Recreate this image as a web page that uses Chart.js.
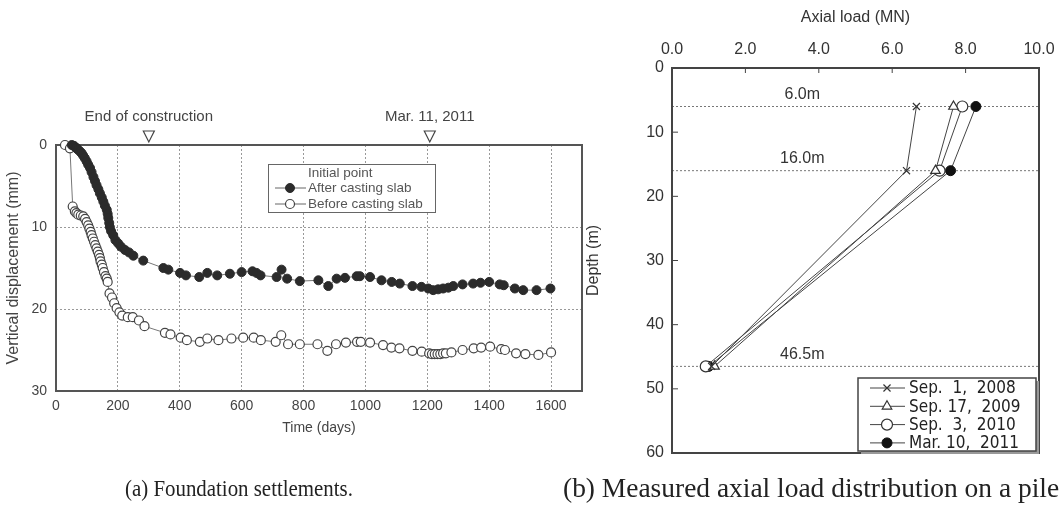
<!DOCTYPE html>
<html>
<head>
<meta charset="utf-8">
<script src="https://cdn.jsdelivr.net/npm/chart.js@4.4.1/dist/chart.umd.min.js"></script>
<style>
html, body { margin:0; padding:0; background:#fff; overflow:hidden; width:1059px; height:515px; position:relative; }
#settle { position:absolute; left:0; top:0; }
#axial { position:absolute; left:580px; top:0; }
.cap { position:absolute; font-family:"Liberation Serif", "DejaVu Serif", serif; color:#222;
       white-space:nowrap; transform-origin:left top; }
#capA { left:125px; top:475px; font-size:24px; line-height:26px; transform:scaleX(0.87); }
#capB { left:563px; top:473px; font-size:28px; line-height:30px; transform:scaleX(0.98); }
</style>
</head>
<body>
<canvas id="settle" width="600" height="515"></canvas>
<canvas id="axial" width="500" height="515"></canvas>
<div class="cap" id="capA">(a) Foundation settlements.</div>
<div class="cap" id="capB">(b) Measured axial load distribution on a pile.</div>
<script>
// ---- settlement records (days, mm) ----
var afterDays = [51,58,63,67,72,78,83,88,93,99,104,110,115,121,126,131,137,142,148,153,158,164,167,169,172,174,178,185,192,201,210,223,236,250,282,
    347,363,401,420,463,489,521,562,600,635,648,661,713,729,747,788,848,880,907,934,972,982,1015,
    1052,1085,1111,1152,1181,1203,1219,1235,1251,1268,1284,1314,1348,1372,1400,1434,1447,1483,1510,1553,1598];
var afterDisp = [0,0.1,0.3,0.4,0.6,0.8,1.0,1.3,1.6,2.0,2.4,2.8,3.3,3.9,4.4,4.9,5.4,5.9,6.4,6.9,7.4,7.9,8.4,8.9,9.5,10.0,10.5,11.0,11.6,12.0,12.4,12.8,13.1,13.5,14.1,
    15.0,15.2,15.6,15.9,16.1,15.6,15.9,15.7,15.5,15.4,15.6,15.9,16.1,15.2,16.3,16.6,16.5,17.2,16.3,16.2,16.0,16.0,16.1,
    16.5,16.7,16.9,17.2,17.3,17.5,17.7,17.6,17.5,17.4,17.2,17.0,16.9,16.8,16.7,17.0,17.1,17.5,17.7,17.7,17.5];

var beforeDays = [29,45,54,61,66,72,80,88,94,99,104,108,112,115,119,123,127,131,135,139,142,144,148,151,155,160,164,167,173,181,
    188,196,205,214,232,248,268,286,352,370,403,423,465,489,525,567,605,639,662,710,728,750,788,845,877,905,937,973,985,1015,
    1057,1084,1110,1152,1182,1206,1215,1224,1233,1242,1251,1260,1278,1314,1350,1374,1403,1439,1451,1487,1517,1559,1600];
var beforeDisp = [0,0.4,7.5,8.1,8.3,8.5,8.6,8.7,9.0,9.4,9.8,10.2,10.6,11.0,11.4,11.8,12.2,12.6,13.0,13.4,13.8,14.2,14.6,15.0,15.5,16.0,16.3,16.7,18.1,18.6,
    19.3,19.9,20.4,20.8,21.0,21.0,21.4,22.1,22.9,23.1,23.5,23.8,24.0,23.6,23.8,23.6,23.5,23.5,23.8,24.0,23.2,24.3,24.3,24.3,25.1,24.3,24.1,24.0,24.0,24.1,
    24.4,24.7,24.8,25.1,25.2,25.4,25.5,25.5,25.5,25.5,25.4,25.4,25.3,25.0,24.8,24.7,24.6,24.9,25.0,25.4,25.5,25.6,25.3];

var dayTicks = [0, 200, 400, 600, 800, 1000, 1200, 1400, 1600];
var dispTicks = [0, 10, 20, 30];

var eventLabels = ['End of construction', 'Mar. 11, 2011'];
var eventDays = [300, 1208];

// ---- pile axial load (MN) at gauge depths (m) ----
var gaugeDepths = [6.0, 16.0, 46.5];
var surveyLabels = ['Sep.  1,  2008', 'Sep. 17,  2009', 'Sep.  3,  2010', 'Mar. 10,  2011'];
var load2008 = [6.66, 6.39, 1.08];
var load2009 = [7.67, 7.18, 1.16];
var load2010 = [7.91, 7.29, 0.92];
var load2011 = [8.28, 7.59, 1.00];

var leftFont = '"Liberation Sans", Arial, sans-serif';
var narrowFont = '"Liberation Sans Narrow", "DejaVu Sans Condensed", "Liberation Sans", sans-serif';

function pts(xs, ys) {
    var out = [];
    for (var i = 0; i < xs.length; i++) out.push({x: xs[i], y: ys[i]});
    return out;
}

function fixedTicks(list) {
    return function (s) { s.ticks = list.map(function (v) { return {value: v}; }); };
}

function marker(ctx, ds, x, y) {
    ctx.save();
    ctx.fillStyle = ds.pointBackgroundColor;
    ctx.strokeStyle = ds.pointBorderColor;
    ctx.lineWidth = ds.pointBorderWidth;
    Chart.helpers.drawPoint(ctx, {pointStyle: ds.pointStyle, radius: ds.pointRadius, rotation: 0, borderWidth: ds.pointBorderWidth}, x, y);
    ctx.restore();
}

// box around the plot, under the markers
var framePlugin = {
    id: 'frame',
    beforeDatasetsDraw: function (chart, args, opts) {
        var a = chart.chartArea, ctx = chart.ctx;
        ctx.save();
        ctx.strokeStyle = opts.color || '#555';
        ctx.lineWidth = opts.width || 2;
        ctx.strokeRect(a.left, a.top, a.right - a.left, a.bottom - a.top);
        ctx.restore();
    }
};

// open triangles + captions over the time axis
var eventPlugin = {
    id: 'events',
    afterDraw: function (chart) {
        var ctx = chart.ctx, xs = chart.scales.x, top = chart.chartArea.top;
        ctx.save();
        ctx.strokeStyle = '#444';
        ctx.lineWidth = 1.2;
        ctx.fillStyle = '#444';
        ctx.font = '15px ' + leftFont;
        ctx.textAlign = 'center';
        ctx.textBaseline = 'middle';
        for (var i = 0; i < eventDays.length; i++) {
            var x = xs.getPixelForValue(eventDays[i]);
            ctx.beginPath();
            ctx.moveTo(x - 5.5, top - 14);
            ctx.lineTo(x + 5.5, top - 14);
            ctx.lineTo(x, top - 3);
            ctx.closePath();
            ctx.stroke();
            ctx.fillText(eventLabels[i], x, top - 28);
        }
        ctx.restore();
    }
};

var settleLegend = {
    id: 'settleLegend',
    afterDraw: function (chart) {
        var ctx = chart.ctx, a = chart.chartArea;
        var bx = a.left + 212, by = a.top + 19, bw = 167, bh = 48;
        ctx.save();
        ctx.fillStyle = '#fff';
        ctx.fillRect(bx, by, bw, bh);
        ctx.strokeStyle = '#666';
        ctx.lineWidth = 1;
        ctx.strokeRect(bx + 0.5, by + 0.5, bw, bh);
        ctx.fillStyle = '#555';
        ctx.font = '13.5px ' + leftFont;
        ctx.textBaseline = 'middle';
        ctx.fillText('Initial point', bx + 40, by + 9);
        var sets = chart.data.datasets;
        for (var i = 0; i < sets.length; i++) {
            var y = by + 24 + i * 16;
            ctx.strokeStyle = '#666';
            ctx.beginPath();
            ctx.moveTo(bx + 7, y);
            ctx.lineTo(bx + 38, y);
            ctx.stroke();
            marker(ctx, sets[i], bx + 22, y);
            ctx.fillStyle = '#555';
            ctx.fillText(sets[i].label, bx + 40, y);
        }
        ctx.restore();
    }
};

new Chart(document.getElementById('settle').getContext('2d'), {
    type: 'scatter',
    data: {
        datasets: [{
            label: 'After casting slab',
            data: pts(afterDays, afterDisp),
            showLine: true, borderColor: '#777', borderWidth: 1,
            pointStyle: 'circle', pointRadius: 4.5, pointBorderWidth: 1,
            pointBackgroundColor: '#2b2b2b', pointBorderColor: '#2b2b2b',
            clip: false
        }, {
            label: 'Before casting slab',
            data: pts(beforeDays, beforeDisp),
            showLine: true, borderColor: '#777', borderWidth: 1,
            pointStyle: 'circle', pointRadius: 4.5, pointBorderWidth: 1.2,
            pointBackgroundColor: '#fff', pointBorderColor: '#444',
            clip: false
        }]
    },
    options: {
        responsive: false,
        animation: false,
        layout: {padding: {left: 0, top: 145, right: 18, bottom: 74}},
        plugins: {legend: {display: false}, tooltip: {enabled: false}, frame: {color: '#555', width: 2}},
        scales: {
            x: {
                type: 'linear', min: 0, max: 1700,
                afterBuildTicks: fixedTicks(dayTicks),
                ticks: {padding: 7, autoSkip: false, maxRotation: 0, color: '#444', font: {family: leftFont, size: 14},
                    callback: function (v) { return String(v); }},
                grid: {drawTicks: false, lineWidth: 1,
                    color: function (c) { return (c.tick && c.tick.value > 0) ? '#999' : 'rgba(0,0,0,0)'; }},
                border: {display: false, dash: [2, 2]},
                title: {display: true, text: 'Time (days)', color: '#444', font: {family: leftFont, size: 14}, padding: {top: 6}},
                afterFit: function (s) { s.height = 50; }
            },
            y: {
                type: 'linear', min: 0, max: 30, reverse: true,
                afterBuildTicks: fixedTicks(dispTicks),
                ticks: {padding: 9, color: '#444', font: {family: leftFont, size: 14},
                    callback: function (v) { return String(v); }},
                grid: {drawTicks: false, lineWidth: 1,
                    color: function (c) { return (c.tick && c.tick.value > 0 && c.tick.value < 30) ? '#999' : 'rgba(0,0,0,0)'; }},
                border: {display: false, dash: [2, 2]},
                title: {display: true, text: 'Vertical displacement (mm)', color: '#444', font: {family: leftFont, size: 16}, padding: {bottom: 3}},
                afterFit: function (s) { s.width = 56; }
            }
        }
    },
    plugins: [framePlugin, eventPlugin, settleLegend]
});

// gauge levels, inside tick marks and the survey legend
var gaugePlugin = {
    id: 'gauges',
    beforeDatasetsDraw: function (chart) {
        var ctx = chart.ctx, a = chart.chartArea, xs = chart.scales.x, ys = chart.scales.y;
        ctx.save();
        ctx.strokeStyle = '#444';
        ctx.lineWidth = 1;
        xs.ticks.forEach(function (t) {
            if (t.value <= 0 || t.value >= 10) return;
            var x = xs.getPixelForValue(t.value);
            ctx.beginPath(); ctx.moveTo(x, a.top); ctx.lineTo(x, a.top + 5); ctx.stroke();
        });
        ys.ticks.forEach(function (t) {
            if (t.value <= 0 || t.value >= 60) return;
            var y = ys.getPixelForValue(t.value);
            ctx.beginPath(); ctx.moveTo(a.left, y); ctx.lineTo(a.left + 6, y); ctx.stroke();
        });
        ctx.setLineDash([2, 2]);
        ctx.strokeStyle = '#777';
        ctx.font = '16px ' + leftFont;
        ctx.fillStyle = '#333';
        ctx.textAlign = 'center';
        ctx.textBaseline = 'middle';
        gaugeDepths.forEach(function (d) {
            var y = ys.getPixelForValue(d);
            ctx.beginPath(); ctx.moveTo(a.left, y); ctx.lineTo(a.right, y); ctx.stroke();
            ctx.fillText(d.toFixed(1) + 'm', xs.getPixelForValue(3.55), y - 12);
        });
        ctx.setLineDash([]);
        ctx.strokeStyle = '#444';
        ctx.lineWidth = 2;
        ctx.strokeRect(a.left, a.top, a.right - a.left, a.bottom - a.top);
        ctx.restore();
    },
    afterDraw: function (chart) {
        var ctx = chart.ctx, a = chart.chartArea, sets = chart.data.datasets;
        var bx = a.right - 181, by = a.bottom - 75, bw = 178, bh = 73;
        ctx.save();
        ctx.fillStyle = '#999';
        ctx.fillRect(bx + 3, by + 3, bw, bh);
        ctx.fillStyle = '#fff';
        ctx.fillRect(bx, by, bw, bh);
        ctx.strokeStyle = '#444';
        ctx.lineWidth = 1.5;
        ctx.strokeRect(bx, by, bw, bh);
        ctx.font = '17px ' + narrowFont;
        ctx.textBaseline = 'middle';
        for (var i = 0; i < sets.length; i++) {
            var y = by + 10 + i * 18.3;
            ctx.strokeStyle = '#444';
            ctx.lineWidth = 1;
            ctx.beginPath(); ctx.moveTo(bx + 12, y); ctx.lineTo(bx + 47, y); ctx.stroke();
            marker(ctx, sets[i], bx + 29, y);
            ctx.fillStyle = '#222';
            ctx.fillText(sets[i].label, bx + 51, y + 1);
        }
        ctx.restore();
    }
};

var loadSets = [load2008, load2009, load2010, load2011];
var styles = [
    {pointStyle: 'crossRot', pointRadius: 5, pointBackgroundColor: '#333', pointBorderColor: '#333', pointBorderWidth: 1.2},
    {pointStyle: 'triangle', pointRadius: 5.5, pointBackgroundColor: '#fff', pointBorderColor: '#333', pointBorderWidth: 1.2},
    {pointStyle: 'circle', pointRadius: 5.5, pointBackgroundColor: '#fff', pointBorderColor: '#333', pointBorderWidth: 1.2},
    {pointStyle: 'circle', pointRadius: 5, pointBackgroundColor: '#111', pointBorderColor: '#111', pointBorderWidth: 1}
];
var axialSets = [];
for (var k = 0; k < loadSets.length; k++) {
    var ds = {
        label: surveyLabels[k],
        data: pts(loadSets[k], gaugeDepths),
        showLine: true, borderColor: '#444', borderWidth: 1, clip: false
    };
    for (var p in styles[k]) ds[p] = styles[k][p];
    axialSets.push(ds);
}

new Chart(document.getElementById('axial').getContext('2d'), {
    type: 'scatter',
    data: {datasets: axialSets},
    options: {
        responsive: false,
        animation: false,
        layout: {padding: {left: 0, top: 0, right: 41, bottom: 62}},
        plugins: {legend: {display: false}, tooltip: {enabled: false}},
        scales: {
            x: {
                type: 'linear', position: 'top', min: 0, max: 10,
                ticks: {stepSize: 2, padding: 9, color: '#333', font: {family: leftFont, size: 16},
                    callback: function (v) { return v.toFixed(1); }},
                grid: {display: false, drawTicks: false},
                border: {display: false},
                title: {display: true, text: 'Axial load (MN)', color: '#333', font: {family: leftFont, size: 16}, padding: {top: 8, bottom: 2}},
                afterFit: function (s) { s.height = 68; }
            },
            y: {
                type: 'linear', min: 0, max: 60, reverse: true,
                ticks: {stepSize: 10, padding: 8, color: '#333', font: {family: leftFont, size: 16}},
                grid: {display: false, drawTicks: false},
                border: {display: false},
                title: {display: true, text: 'Depth (m)', color: '#333', font: {family: leftFont, size: 16}, padding: {bottom: 6}},
                afterFit: function (s) { s.width = 92; }
            }
        }
    },
    plugins: [gaugePlugin]
});
</script>
</body>
</html>
